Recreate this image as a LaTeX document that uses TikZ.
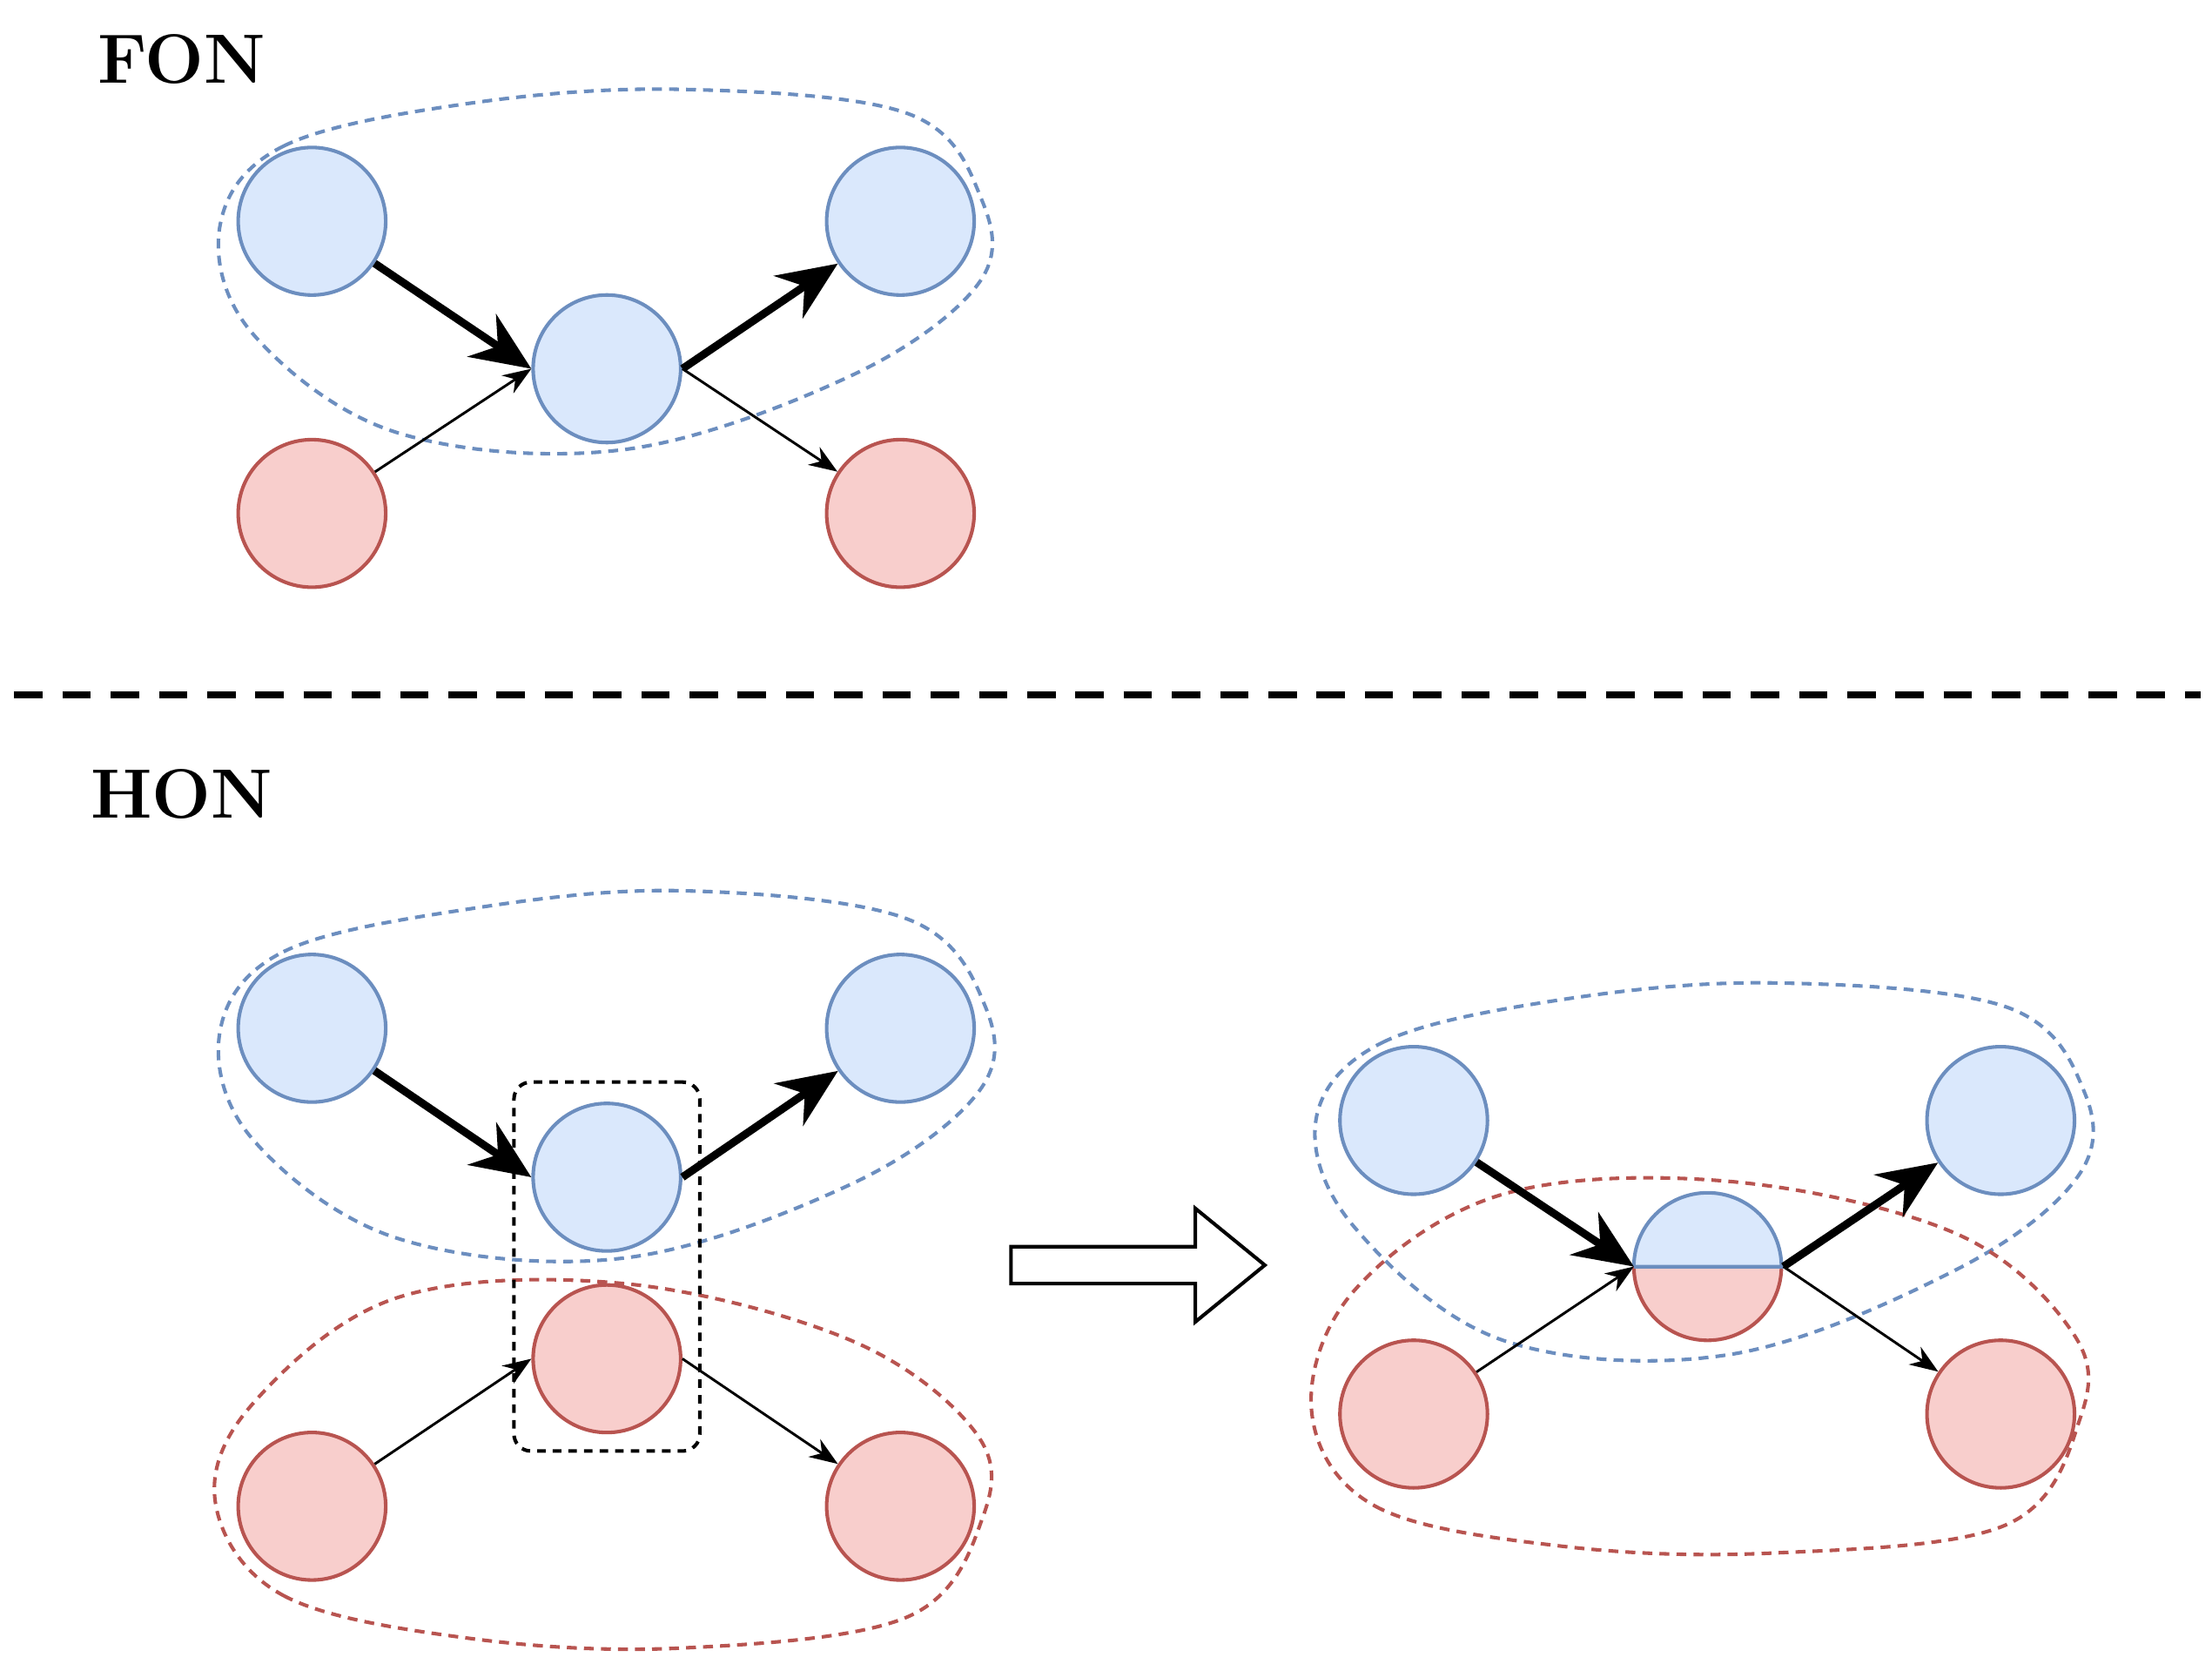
\documentclass[tikz,border=0pt]{standalone}
\usetikzlibrary{arrows.meta}
\begin{document}
\definecolor{bfill}{HTML}{DAE8FC}\definecolor{bline}{HTML}{6C8EBF}
\definecolor{rfill}{HTML}{F8CECC}\definecolor{rline}{HTML}{B85450}
\begin{tikzpicture}[x=0.01cm,y=-0.01cm,
  bn/.style={circle,draw=bline,fill=bfill,line width=0.025cm,minimum size=1.04cm,inner sep=0},
  rn/.style={circle,draw=rline,fill=rfill,line width=0.025cm,minimum size=1.04cm,inner sep=0},
  thick arr/.style={line width=0.055cm,-{Stealth[length=0.42cm,width=0.36cm]}},
  thin arr/.style={line width=0.018cm,-{Stealth[length=0.2cm,width=0.15cm]}},
  blob/.style={dashed,line width=0.025cm,dash pattern=on 0.07cm off 0.05cm},
  lbl/.style={font=\fontsize{14}{16}\selectfont\bfseries}]
\useasboundingbox (0,0) rectangle (1560,1173);
% ---- FON
\node[lbl] (fon) at (128,42) {FON};
\draw[blob,draw=bline] plot[smooth cycle,tension=0.6] coordinates{(155,160)(200,103)(330,73)(480,63)(640,80)(692,140)(690,200)(600,265)(440,317)(280,305)(178,235)};
\node[bn] (a1) at (220,156) {};
\node[bn] (b1) at (428,260) {};
\node[bn] (c1) at (635,156) {};
\node[rn] (d1) at (220,362) {};
\node[rn] (e1) at (635,362) {};
\draw[thick arr] (a1) -- (b1.west);
\draw[thick arr] (b1.east) -- (c1);
\draw[thin arr] (d1) -- (b1.west);
\draw[thin arr] (b1.east) -- (e1);
% separator
\coordinate (s1) at (10,490); \coordinate (s2) at (1552,490);
\draw[line width=0.045cm,dash pattern=on 0.2cm off 0.14cm] (s1) -- (s2);
% ---- HON
\node[lbl] (hon) at (128,560) {HON};
\draw[blob,draw=bline] plot[smooth cycle,tension=0.6] coordinates{(155,728)(200,671)(330,641)(480,628)(640,648)(695,710)(690,770)(600,835)(440,887)(280,873)(178,803)};
\draw[blob,draw=rline] plot[smooth cycle,tension=0.6] coordinates{(152,1060)(200,1125)(330,1155)(480,1162)(640,1140)(693,1070)(688,1010)(600,945)(440,905)(280,915)(178,990)};
\node[bn] (a2) at (220,725) {};
\node[bn] (b2) at (428,830) {};
\node[bn] (c2) at (635,725) {};
\node[rn] (m2) at (428,958) {};
\node[rn] (d2) at (220,1062) {};
\node[rn] (e2) at (635,1062) {};
\node[draw,rounded corners=0.12cm,line width=0.025cm,dash pattern=on 0.06cm off 0.05cm,minimum width=1.31cm,minimum height=2.6cm] (box) at (428,893) {};
\draw[thick arr] (a2) -- (b2.west);
\draw[thick arr] (b2.east) -- (c2);
\draw[thin arr] (d2) -- (m2.west);
\draw[thin arr] (m2.east) -- (e2);
% big arrow
\draw[line width=0.025cm,fill=white] (713,879) -- (843,879) -- (843,852) -- (892,892) -- (843,932) -- (843,905) -- (713,905) -- cycle;
% ---- right
\draw[blob,draw=bline] plot[smooth cycle,tension=0.6] coordinates{(928,790)(975,735)(1100,705)(1250,693)(1415,710)(1470,770)(1465,830)(1380,895)(1220,955)(1060,945)(955,865)};
\draw[blob,draw=rline] plot[smooth cycle,tension=0.6] coordinates{(925,995)(970,1062)(1100,1090)(1250,1095)(1415,1075)(1467,1000)(1462,940)(1380,870)(1220,833)(1060,842)(955,910)};
\node[bn] (a3) at (997,790) {};
\node[bn] (c3) at (1411,790) {};
\node[rn] (d3) at (997,997) {};
\node[rn] (e3) at (1411,997) {};
\node[circle,minimum size=1.04cm,inner sep=0] (m3) at (1205,893) {};
\fill[bfill] (m3.west) arc[start angle=180,end angle=0,radius=0.52cm] -- cycle;
\fill[rfill] (m3.west) arc[start angle=180,end angle=360,radius=0.52cm] -- cycle;
\draw[bline,line width=0.025cm] (m3.west) arc[start angle=180,end angle=0,radius=0.52cm] -- cycle;
\draw[rline,line width=0.025cm] (m3.west) arc[start angle=180,end angle=360,radius=0.52cm];
\draw[bline,line width=0.025cm] (m3.west) -- (m3.east);
\draw[thick arr] (a3) -- (m3.west);
\draw[thick arr] (m3.east) -- (c3);
\draw[thin arr] (d3) -- (m3.west);
\draw[thin arr] (m3.east) -- (e3);
\end{tikzpicture}
\end{document}
